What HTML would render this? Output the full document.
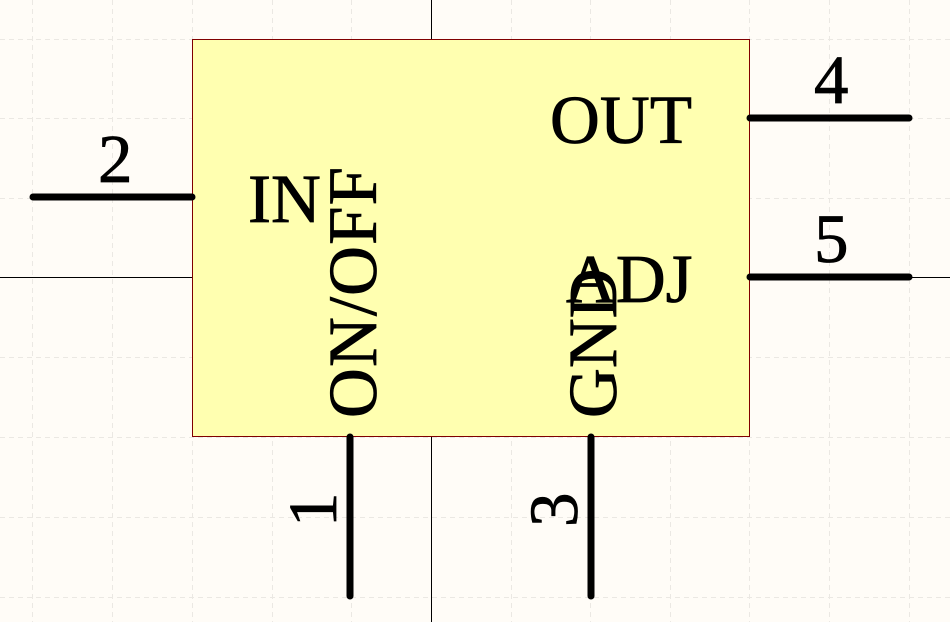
<!DOCTYPE html>
<html><head><style>html,body{margin:0;padding:0;background:#fffcf7;}svg{display:block}</style></head>
<body>
<svg width="950" height="622" xmlns="http://www.w3.org/2000/svg" font-family="Liberation Serif, serif" font-size="69">
<rect width="950" height="622" fill="#fffcf7"/>
<g stroke="#ebe8e3" stroke-width="1" stroke-dasharray="5,4">
<line x1="32.5" y1="0" x2="32.5" y2="622"/><line x1="112.5" y1="0" x2="112.5" y2="622"/><line x1="192.5" y1="0" x2="192.5" y2="622"/><line x1="272.5" y1="0" x2="272.5" y2="622"/><line x1="351.5" y1="0" x2="351.5" y2="622"/><line x1="511.5" y1="0" x2="511.5" y2="622"/><line x1="590.5" y1="0" x2="590.5" y2="622"/><line x1="670.5" y1="0" x2="670.5" y2="622"/><line x1="749.5" y1="0" x2="749.5" y2="622"/><line x1="829.5" y1="0" x2="829.5" y2="622"/><line x1="909.5" y1="0" x2="909.5" y2="622"/>
<line x1="0" y1="39.5" x2="950" y2="39.5"/><line x1="0" y1="118.5" x2="950" y2="118.5"/><line x1="0" y1="198.5" x2="950" y2="198.5"/><line x1="0" y1="357.5" x2="950" y2="357.5"/><line x1="0" y1="437.5" x2="950" y2="437.5"/><line x1="0" y1="517.5" x2="950" y2="517.5"/><line x1="0" y1="597.5" x2="950" y2="597.5"/>
</g>
<line x1="431.5" y1="0" x2="431.5" y2="622" stroke="#000" stroke-width="1"/>
<line x1="0" y1="277.5" x2="950" y2="277.5" stroke="#000" stroke-width="1"/>
<rect x="192.5" y="39.5" width="557" height="397" fill="#ffffb0" stroke="#800000" stroke-width="1"/>
<g stroke="#000" stroke-width="7" stroke-linecap="round">
<line x1="33" y1="197" x2="192" y2="197"/>
<line x1="750" y1="118" x2="909" y2="118"/>
<line x1="750" y1="277" x2="909" y2="277"/>
<line x1="350" y1="437" x2="350" y2="596"/>
<line x1="591" y1="437" x2="591" y2="596"/>
</g>
<g fill="#000" stroke="#000" stroke-width="0.8">
<text x="98" y="182">2</text>
<text x="248" y="222">IN</text>
<text x="550" y="143" textLength="142">OUT</text>
<text x="814" y="103">4</text>
<text x="814" y="262">5</text>
<text x="566" y="302">ADJ</text>
<text transform="translate(376,418) rotate(-90)" textLength="251">ON/OFF</text>
<text transform="translate(616,418) rotate(-90)">GND</text>
<text transform="translate(336,527) rotate(-90)">1</text>
<text transform="translate(577,527) rotate(-90)">3</text>
</g>
</svg>
</body></html>
